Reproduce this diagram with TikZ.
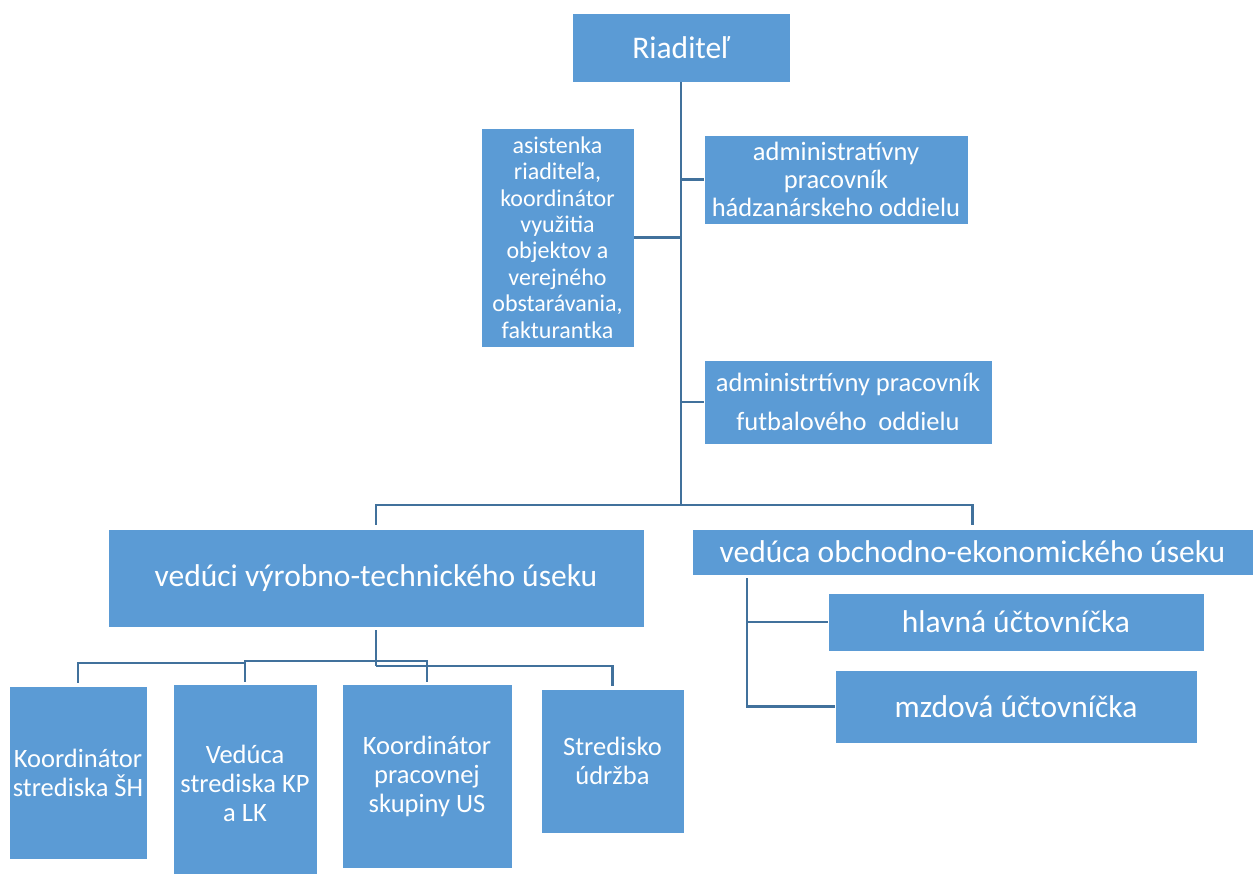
\documentclass[tikz,border=0pt]{standalone}
\usepackage{fontspec}
\setmainfont{Carlito}
\definecolor{boxblue}{HTML}{5B9BD5}
\definecolor{lineblue}{HTML}{41719C}
\begin{document}
\begin{tikzpicture}[x=1pt,y=-1pt,
  box/.style={fill=boxblue, draw=white, line width=0.6pt, text=white, inner sep=0pt, align=center},
  big/.style={font=\fontsize{31.5}{38}\selectfont},
  mid/.style={font=\fontsize{26.5}{29}\selectfont},
  conn/.style={draw=lineblue, line width=2.6pt}]
\useasboundingbox (0,0) rectangle (1253,873);
% top level
\node[box, big, minimum width=218pt, minimum height=69pt] (riad) at (681,47.5) {Riaditeľ};
\node[box, font=\fontsize{24}{26.4}\selectfont, minimum width=153pt, minimum height=219pt] (asist) at (557.5,237.5)
  {asistenka\\riaditeľa,\\koordinátor\\využitia\\objektov a\\verejného\\obstarávania,\\fakturantka};
\node[box, font=\fontsize{26.5}{28}\selectfont, minimum width=264pt, minimum height=89pt] (adm1) at (836,179.5)
  {administratívny\\pracovník\\hádzanárskeho oddielu};
\node[box, font=\fontsize{26.5}{39}\selectfont, minimum width=288pt, minimum height=84pt] (adm2) at (848,402)
  {administrtívny pracovník\\futbalového\ \ oddielu};
% second level
\node[box, big, minimum width=536pt, minimum height=98pt] (vvt) at (376,578) {vedúci výrobno-technického úseku};
\node[box, big, minimum width=561pt, minimum height=46pt] (voe) at (972.5,552) {vedúca obchodno-ekonomického úseku};
\node[box, big, minimum width=376pt, minimum height=58pt] (hlav) at (1016,622) {hlavná účtovníčka};
\node[box, big, minimum width=362pt, minimum height=73pt] (mzd) at (1016,706.5) {mzdová účtovníčka};
% bottom level
\node[box, mid, minimum width=138pt, minimum height=173pt] (b1) at (78,772.5) {Koordinátor\\strediska ŠH};
\node[box, mid, minimum width=144pt, minimum height=198pt] (b2) at (245,783) {Vedúca\\strediska KP\\a LK};
\node[box, mid, minimum width=170pt, minimum height=184pt] (b3) at (427,776) {Koordinátor\\pracovnej\\skupiny US};
\node[box, mid, minimum width=143pt, minimum height=144pt] (b4) at (612.5,761) {Stredisko\\údržba};
% junction coordinates
\coordinate (j1) at (681,505);
\coordinate (k1) at (747,578);
\coordinate (bA) at (245,663);
\coordinate (bB) at (376,661);
\coordinate (bC) at (376,666);
% connectors
\draw[conn] (riad.south) -- (j1);
\draw[conn] (asist.east) -- (asist.east -| riad.south);
\draw[conn] (adm1.west) -- (adm1.west -| riad.south);
\draw[conn] (adm2.west) -- (adm2.west -| riad.south);
\draw[conn] (j1) -| ([yshift=4pt]vvt.north);
\draw[conn] (j1) -| ([yshift=4pt]voe.north);
\draw[conn] (k1) |- (hlav.west);
\draw[conn] (k1) |- (mzd.west);
\draw[conn] ([yshift=-3pt]vvt.south) -- (bC);
\draw[conn] (bB) -| ([yshift=2pt]b2.north);
\draw[conn] (bB) -| ([yshift=2pt]b3.north);
\draw[conn] (bA) -| ([yshift=3pt]b1.north);
\draw[conn] (bC) -| ([yshift=3pt]b4.north);
\end{tikzpicture}
\end{document}
